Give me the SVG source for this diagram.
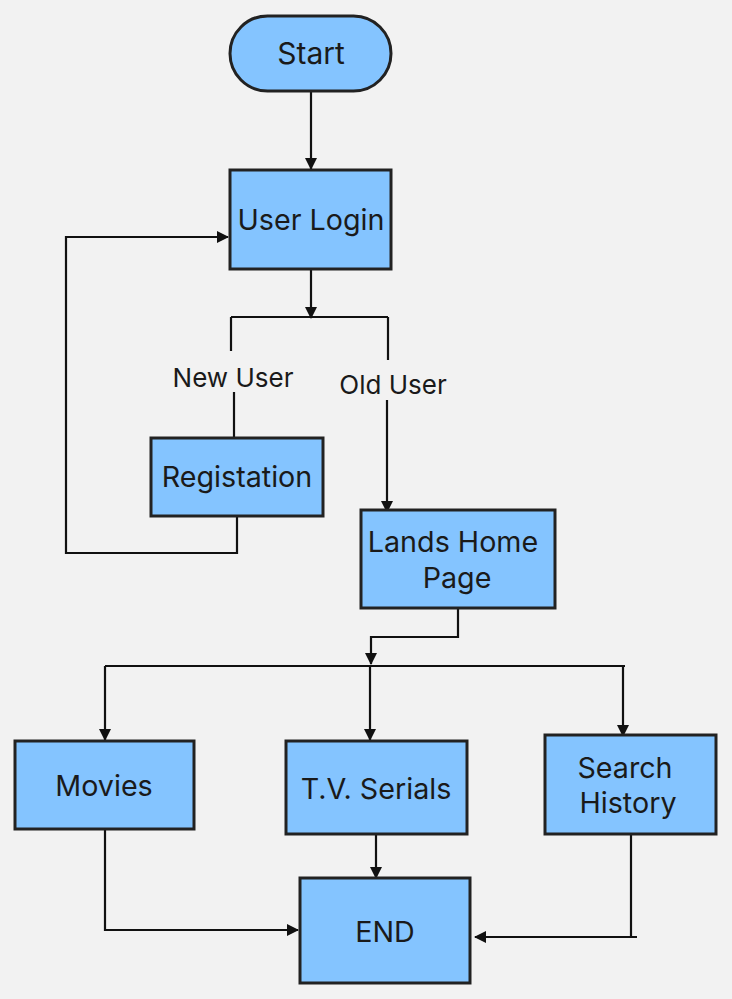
<svg xmlns="http://www.w3.org/2000/svg" width="732" height="999" viewBox="0 0 732 999">
<defs>
<marker id="arr" markerWidth="12" markerHeight="12" viewBox="0 0 12 12" refX="11" refY="6" orient="auto" markerUnits="userSpaceOnUse">
<path d="M0,0 L12,6 L0,12 Z" fill="#111"/>
</marker>
<style>
.box{fill:#84C4FF;stroke:#222;stroke-width:3}
.t{font-family:Inter,"Noto Sans",sans-serif;font-size:28.7px;fill:#1a1a1a;text-anchor:middle;dominant-baseline:central}
.lbl{font-family:Inter,"Noto Sans",sans-serif;font-size:26px;fill:#1a1a1a;text-anchor:middle;dominant-baseline:central}
.c{fill:none;stroke:#111;stroke-width:2.2}
.ca{fill:none;stroke:#111;stroke-width:2.2;marker-end:url(#arr)}
</style>
</defs>
<rect width="732" height="999" fill="#F2F2F2"/>
<g id="connectors">
<path class="ca" d="M311,91 V169"/>
<path class="ca" d="M311,269 V318"/>
<path class="c" d="M231,317 H388"/>
<path class="c" d="M231,317 V351"/>
<path class="c" d="M234,392 V437"/>
<path class="c" d="M388,317 V360"/>
<path class="ca" d="M387,400 V512"/>
<path class="ca" d="M237,516 V553 H66 V237 H228"/>
<path class="ca" d="M458,608 V637 H371 V664"/>
<path class="c" d="M105,666 H625"/>
<path class="ca" d="M105,666 V740"/>
<path class="ca" d="M370,666 V740"/>
<path class="ca" d="M623,666 V736"/>
<path class="ca" d="M376,834 V878"/>
<path class="ca" d="M105,829 V930 H298"/>
<path class="c" d="M631,834 V937"/>
<path class="ca" d="M637,937 H475"/>
</g>
<g id="start">
<rect class="box" x="230" y="16" width="161" height="75" rx="37.5"/>
<text class="t" x="311" y="53" style="font-size:30px">Start</text>
</g>
<g id="login">
<rect class="box" x="230" y="170" width="161" height="99"/>
<text class="t" x="311" y="219">User Login</text>
</g>
<g id="label-new">
<text class="lbl" x="233" y="377">New User</text>
</g>
<g id="label-old">
<text class="lbl" x="393" y="384">Old User</text>
</g>
<g id="registation">
<rect class="box" x="151" y="438" width="172" height="78"/>
<text class="t" x="237" y="476">Registation</text>
</g>
<g id="home">
<rect class="box" x="361" y="510" width="194" height="98"/>
<text class="t" x="453" y="541">Lands Home</text>
<text class="t" x="457" y="577">Page</text>
</g>
<g id="movies">
<rect class="box" x="15" y="741" width="179" height="88"/>
<text class="t" x="104" y="785">Movies</text>
</g>
<g id="tv">
<rect class="box" x="286" y="741" width="181" height="93"/>
<text class="t" x="376" y="788">T.V. Serials</text>
</g>
<g id="search">
<rect class="box" x="545" y="735" width="171" height="99"/>
<text class="t" x="625" y="767">Search</text>
<text class="t" x="628" y="802">History</text>
</g>
<g id="end">
<rect class="box" x="300" y="878" width="170" height="105"/>
<text class="t" x="385" y="931">END</text>
</g>
</svg>
